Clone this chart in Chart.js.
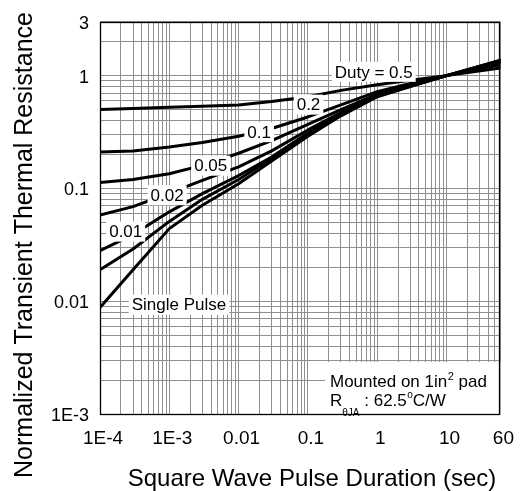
<!DOCTYPE html>
<html>
<head>
<meta charset="utf-8">
<script src="https://cdn.jsdelivr.net/npm/chart.js@4.4.1/dist/chart.umd.min.js"></script>
<style>
  html, body { margin: 0; padding: 0; background: #fff; }
  #wrap { width: 524px; height: 491px; }
</style>
</head>
<body>
<div id="wrap"><canvas id="chart" width="524" height="491"></canvas></div>
<script>
// Pulse durations (sec) at which each curve is sampled
const pulseDuration = [1e-4, 3e-4, 1e-3, 3e-3, 1e-2, 3e-2, 0.1, 0.3, 1, 3, 10, 60];

// Normalized transient thermal resistance per duty cycle
const duty50      = [0.50, 0.51, 0.525, 0.535, 0.55, 0.59, 0.65, 0.74, 0.83, 0.91, 1.0, 1.17];
const duty20      = [0.21, 0.215, 0.233, 0.255, 0.29, 0.34, 0.43, 0.55, 0.72, 0.85, 1.0, 1.25];
const duty10      = [0.113, 0.12, 0.135, 0.16, 0.205, 0.265, 0.37, 0.50, 0.685, 0.83, 1.0, 1.30];
const duty05      = [0.058, 0.069, 0.091, 0.118, 0.155, 0.215, 0.33, 0.47, 0.67, 0.82, 1.0, 1.33];
const duty02      = [0.028, 0.039, 0.062, 0.09, 0.13, 0.19, 0.31, 0.455, 0.66, 0.81, 1.0, 1.35];
const duty01      = [0.019, 0.029, 0.051, 0.08, 0.12, 0.185, 0.30, 0.45, 0.655, 0.805, 1.0, 1.36];
const singlePulse = [0.0088, 0.019, 0.044, 0.071, 0.11, 0.175, 0.29, 0.44, 0.65, 0.80, 1.0, 1.37];

const seriesNames = ['Duty = 0.5', '0.2', '0.1', '0.05', '0.02', '0.01', 'Single Pulse'];
const seriesValues = [duty50, duty20, duty10, duty05, duty02, duty01, singlePulse];

// Axis tick labels
const xTickValues = [1e-4, 1e-3, 0.01, 0.1, 1, 10, 60];
const xTickLabels = ['1E-4', '1E-3', '0.01', '0.1', '1', '10', '60'];
const yTickValues = [1e-3, 0.01, 0.1, 1, 3];
const yTickLabels = ['1E-3', '0.01', '0.1', '1', '3'];

// Curve captions, anchored in data coordinates (duration, resistance)
const captionText = ['Duty = 0.5', '0.2', '0.1', '0.05', '0.02', '0.01', 'Single Pulse'];
const captionX = [0.89, 0.102, 0.0198, 0.00396, 0.00093, 0.000235, 0.00138];
const captionY = [1.08, 0.553, 0.315, 0.159, 0.087, 0.0414, 0.0093];

const FONT = "'Liberation Sans', Arial, Helvetica, sans-serif";
Chart.defaults.font.family = FONT;
Chart.defaults.color = '#000';

function logGrid(min, max) {
  const out = [];
  for (let e = Math.floor(Math.log10(min)); e <= Math.ceil(Math.log10(max)); e++) {
    for (let k = 1; k <= 9; k++) {
      const v = k * Math.pow(10, e);
      if (v >= min * (1 - 1e-9) && v <= max * (1 + 1e-9)) out.push(v);
    }
  }
  return out;
}

function labelFor(v, values, labels) {
  for (let i = 0; i < values.length; i++) {
    if (Math.abs(Math.log10(v) - Math.log10(values[i])) < 1e-6) return labels[i];
  }
  return '';
}

const xMin = 1e-4, xMax = 60, yMin = 1e-3, yMax = 3;
const xGrid = logGrid(xMin, xMax);
const yGrid = logGrid(yMin, yMax);

const datasets = seriesValues.map((vals, i) => ({
  label: seriesNames[i],
  data: pulseDuration.map((t, j) => ({ x: t, y: vals[j] })),
  borderColor: '#000',
  borderWidth: 3,
  pointRadius: 0,
  tension: 0,
  fill: false,
  borderCapStyle: 'round',
  borderJoinStyle: 'round'
}));

const decorations = {
  id: 'decorations',
  afterDatasetsDraw(chart) {
    const { ctx, chartArea: a, scales: { x, y } } = chart;
    ctx.save();

    // Mounting note box
    const bx = 325, by = 362;
    ctx.fillStyle = '#fff';
    ctx.fillRect(bx, by, a.right - bx, a.bottom - by);
    ctx.fillStyle = '#000';
    ctx.textAlign = 'left';
    ctx.textBaseline = 'alphabetic';
    let cx = 330;
    ctx.font = '17px ' + FONT;
    ctx.fillText('Mounted on 1in', cx, 387);
    cx += ctx.measureText('Mounted on 1in').width + 0.5;
    ctx.font = '11px ' + FONT;
    ctx.fillText('2', cx, 380);
    cx += ctx.measureText('2').width;
    ctx.font = '17px ' + FONT;
    ctx.fillText(' pad', cx, 387);

    cx = 330;
    ctx.fillText('R', cx, 406);
    cx += ctx.measureText('R').width;
    ctx.font = '10px ' + FONT;
    ctx.fillText('\u03B8JA', cx, 416);
    cx += ctx.measureText('\u03B8JA').width;
    ctx.font = '17px ' + FONT;
    ctx.fillText(' : 62.5', cx, 406);
    cx += ctx.measureText(' : 62.5').width + 0.5;
    ctx.font = '10px ' + FONT;
    ctx.fillText('o', cx, 398);
    cx += ctx.measureText('o').width;
    ctx.font = '17px ' + FONT;
    ctx.fillText('C/W', cx, 406);

    // Curve captions on white patches
    ctx.font = '17px ' + FONT;
    ctx.textAlign = 'center';
    ctx.textBaseline = 'middle';
    captionText.forEach((t, i) => {
      const px = x.getPixelForValue(captionX[i]);
      const py = y.getPixelForValue(captionY[i]);
      const w = ctx.measureText(t).width + 6;
      ctx.fillStyle = '#fff';
      ctx.fillRect(px - w / 2, py - 10, w, 20);
      ctx.fillStyle = '#000';
      ctx.fillText(t, px, py + 1);
    });

    // Plot frame
    ctx.strokeStyle = '#000';
    ctx.lineWidth = 1.3;
    ctx.strokeRect(Math.round(a.left) + 0.5, Math.round(a.top) + 0.5,
                   Math.round(a.right - a.left) - 1, Math.round(a.bottom - a.top));
    ctx.restore();
  },
  afterDraw(chart) {
    const { ctx } = chart;
    ctx.save();
    ctx.fillStyle = '#000';
    ctx.font = '24px ' + FONT;
    ctx.textAlign = 'center';
    ctx.textBaseline = 'alphabetic';
    ctx.fillText('Square Wave Pulse Duration (sec)', 312, 486);
    ctx.translate(32, 245);
    ctx.rotate(-Math.PI / 2);
    ctx.font = '25px ' + FONT;
    ctx.fillText('Normalized Transient Thermal Resistance', 0, 0);
    ctx.restore();
  }
};

new Chart(document.getElementById('chart'), {
  type: 'line',
  data: { datasets },
  plugins: [decorations],
  options: {
    responsive: false,
    devicePixelRatio: 1,
    animation: false,
    events: [],
    layout: { padding: { top: 16, right: 19, left: 0, bottom: 0 } },
    plugins: { legend: { display: false }, tooltip: { enabled: false } },
    scales: {
      x: {
        type: 'logarithmic',
        min: xMin,
        max: xMax,
        afterBuildTicks: s => { s.ticks = xGrid.map(v => ({ value: v })); },
        afterFit: s => { s.height = 77; },
        grid: { color: '#8f8f8f', lineWidth: 1, drawTicks: false },
        border: { display: false },
        ticks: {
          autoSkip: false, maxRotation: 0, minRotation: 0,
          padding: 13, labelOffset: 3,
          font: { size: 19 },
          callback: v => labelFor(v, xTickValues, xTickLabels)
        }
      },
      y: {
        type: 'logarithmic',
        min: yMin,
        max: yMax,
        afterBuildTicks: s => { s.ticks = yGrid.map(v => ({ value: v })); },
        afterFit: s => { s.width = 100; },
        grid: { color: '#8f8f8f', lineWidth: 1, drawTicks: false },
        border: { display: false },
        ticks: {
          autoSkip: false,
          padding: 11, labelOffset: 2,
          font: { size: 18 },
          callback: v => labelFor(v, yTickValues, yTickLabels)
        }
      }
    }
  }
});
</script>
</body>
</html>
